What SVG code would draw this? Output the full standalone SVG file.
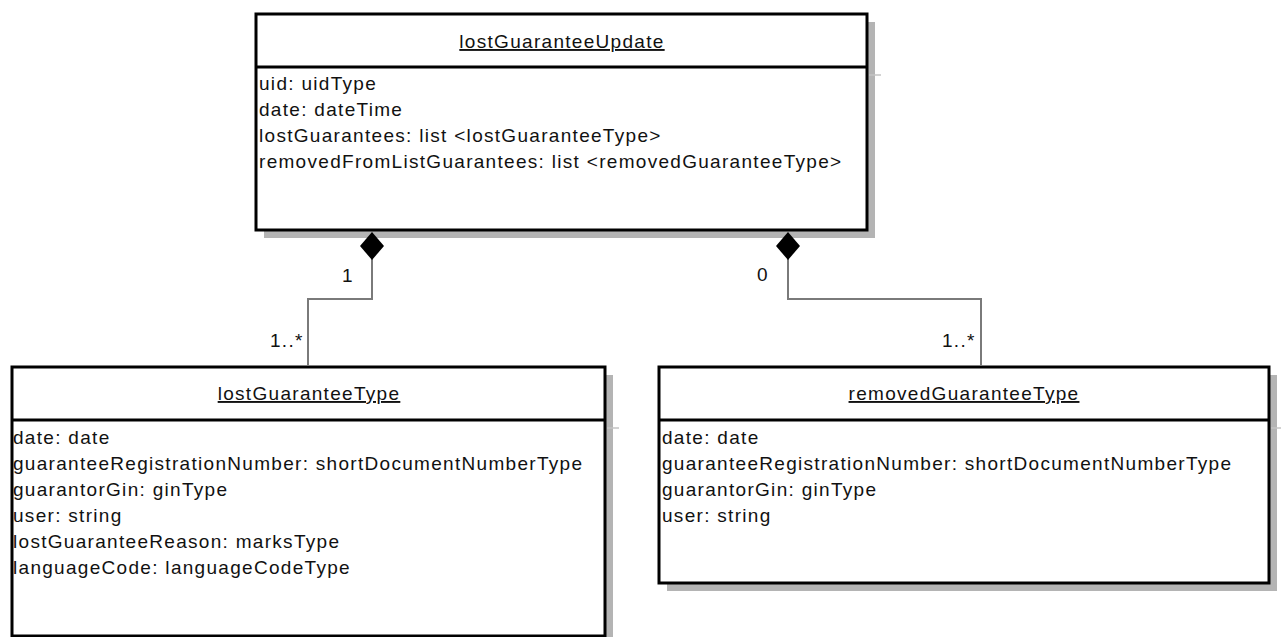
<svg xmlns="http://www.w3.org/2000/svg" width="1281" height="637" viewBox="0 0 1281 637">
<defs>
<style>
.shadow{fill:#b4b4b4;stroke:none}
.box{fill:#ffffff;stroke:#000000;stroke-width:3}
.div{stroke:#000000;stroke-width:3}
.dsh{stroke:#c4c4c4;stroke-width:1.5}
.t{font-family:"Liberation Sans",Arial,sans-serif;font-size:19px;fill:#111111;letter-spacing:1.3px}
.title{text-anchor:middle;text-decoration:underline}
.conn{fill:none;stroke:#7a7a7a;stroke-width:2}
.dia{fill:#000000;stroke:none}
</style>
</defs>
<rect width="1281" height="637" fill="#ffffff"/>

<g id="lostGuaranteeUpdate">
<rect class="shadow" x="264" y="22" width="611" height="216"/>
<line class="dsh" x1="869" y1="75" x2="881" y2="75"/>
<rect class="box" x="256" y="14" width="611" height="216"/>
<line class="div" x1="256" y1="67" x2="867" y2="67"/>
<text class="t title" x="562" y="48">lostGuaranteeUpdate</text>
<text class="t" x="259" y="90">uid: uidType</text>
<text class="t" x="259" y="116">date: dateTime</text>
<text class="t" x="259" y="142">lostGuarantees: list &lt;lostGuaranteeType&gt;</text>
<text class="t" x="259" y="168">removedFromListGuarantees: list &lt;removedGuaranteeType&gt;</text>
</g>

<g id="lostGuaranteeType">
<rect class="shadow" x="20" y="375" width="593" height="270"/>
<line class="dsh" x1="607" y1="428" x2="619" y2="428"/>
<rect class="box" x="12" y="367" width="593" height="269"/>
<line class="div" x1="12" y1="420" x2="605" y2="420"/>
<text class="t title" x="309" y="400">lostGuaranteeType</text>
<text class="t" x="13" y="444">date: date</text>
<text class="t" x="13" y="470">guaranteeRegistrationNumber: shortDocumentNumberType</text>
<text class="t" x="13" y="496">guarantorGin: ginType</text>
<text class="t" x="13" y="522">user: string</text>
<text class="t" x="13" y="548">lostGuaranteeReason: marksType</text>
<text class="t" x="13" y="574">languageCode: languageCodeType</text>
</g>

<g id="removedGuaranteeType">
<rect class="shadow" x="667" y="375" width="610" height="216"/>
<line class="dsh" x1="1271" y1="428" x2="1281" y2="428"/>
<rect class="box" x="659" y="367" width="610" height="216"/>
<line class="div" x1="659" y1="420" x2="1269" y2="420"/>
<text class="t title" x="964" y="400">removedGuaranteeType</text>
<text class="t" x="662" y="444">date: date</text>
<text class="t" x="662" y="470">guaranteeRegistrationNumber: shortDocumentNumberType</text>
<text class="t" x="662" y="496">guarantorGin: ginType</text>
<text class="t" x="662" y="522">user: string</text>
</g>

<g id="connectors">
<path class="conn" d="M372,258 V299 H308 V366"/>
<polygon class="dia" points="372,232 384,246 372,260 360,246"/>
<text class="t" x="342" y="282">1</text>
<text class="t" x="270" y="347">1..*</text>
<path class="conn" d="M788,258 V299 H981 V366"/>
<polygon class="dia" points="788,232 800,246 788,260 776,246"/>
<text class="t" x="757" y="281">0</text>
<text class="t" x="942" y="347">1..*</text>
</g>
</svg>
